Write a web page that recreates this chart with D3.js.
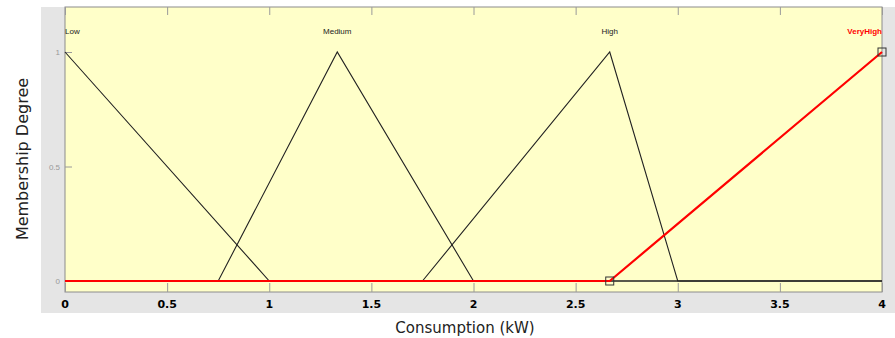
<!DOCTYPE html>
<html>
<head>
<meta charset="utf-8">
<script src="https://cdn.jsdelivr.net/npm/d3@7"></script>
<style>
  body { margin: 0; background: #fff; }
  svg { display: block; }
</style>
</head>
<body>
<svg width="895" height="338"></svg>
<script>
// membership functions (x, degree)
const mfNames = ['Low', 'Medium', 'High', 'VeryHigh']
const lowPts = [[0, 1], [1, 0], [4, 0]]
const mediumPts = [[0, 0], [0.75, 0], [1.333, 1], [2, 0], [4, 0]]
const highPts = [[0, 0], [1.75, 0], [2.667, 1], [3, 0], [4, 0]]
const veryHighPts = [[0, 0], [2.667, 0], [4, 1]]
const mfPeaks = [0, 1.333, 2.667, 4]
const xTicks = [0, 0.5, 1, 1.5, 2, 2.5, 3, 3.5, 4]
const yTicks = [0, 0.5, 1]

const svg = d3.select('svg')
const plotL = 65, plotR = 882, plotT = 7, plotB = 292

// gray panel behind the plot
svg.append('rect')
    .attr('x', 41).attr('y', plotT)
    .attr('width', 895 - 41).attr('height', 313 - plotT)
    .attr('fill', '#e5e5e5')

svg.append('rect')
    .attr('x', plotL).attr('y', plotT)
    .attr('width', plotR - plotL).attr('height', plotB - plotT)
    .attr('fill', '#ffffc9')
    .attr('stroke', '#8c8c8c')
    .attr('stroke-width', 1)

const x = d3.scaleLinear().domain([0, 4]).range([plotL, plotR])
const y = d3.scaleLinear().domain([0, 1]).range([281, 52])

// x ticks at top and bottom, inside
svg.append('g')
    .attr('transform', `translate(0, ${plotB})`)
    .call(d3.axisTop(x).tickValues(xTicks).tickSize(9).tickFormat(''))
    .call(g => g.select('.domain').remove())
    .call(g => g.selectAll('line').attr('stroke', '#9a9a9a'))
svg.append('g')
    .attr('transform', `translate(0, ${plotT})`)
    .call(d3.axisBottom(x).tickValues(xTicks).tickSize(8).tickFormat(''))
    .call(g => g.select('.domain').remove())
    .call(g => g.selectAll('line').attr('stroke', '#9a9a9a'))

// x tick labels, bold
svg.append('g').selectAll('text')
    .data(xTicks)
    .join('text')
    .attr('x', x)
    .attr('y', 308)
    .attr('text-anchor', 'middle')
    .attr('font-family', 'DejaVu Sans, Verdana, sans-serif')
    .attr('font-weight', 'bold')
    .attr('font-size', 11)
    .text(d => d)

// y ticks
const yAxis = svg.append('g')
    .attr('transform', `translate(${plotL}, 0)`)
    .call(d3.axisRight(y).tickValues(yTicks).tickSize(7).tickFormat(''))
yAxis.select('.domain').remove()
yAxis.selectAll('line').attr('stroke', '#9a9a9a')
svg.append('g').selectAll('text')
    .data(yTicks)
    .join('text')
    .attr('x', 60)
    .attr('y', d => y(d) + 3)
    .attr('text-anchor', 'end')
    .attr('font-family', 'Liberation Sans, Arial, sans-serif')
    .attr('font-size', 8)
    .attr('fill', '#999')
    .text(d => d)

const line = d3.line().x(d => x(d[0])).y(d => y(d[1]))

;[lowPts, mediumPts, highPts].forEach(pts => {
    svg.append('path')
        .attr('d', line(pts))
        .attr('fill', 'none')
        .attr('stroke', '#222')
        .attr('stroke-width', 1.1)
})

svg.append('path')
    .attr('d', line(veryHighPts))
    .attr('fill', 'none')
    .attr('stroke', '#ff0000')
    .attr('stroke-width', 2.2)

// square markers on selected function
svg.append('g').selectAll('rect')
    .data([veryHighPts[1], veryHighPts[2]])
    .join('rect')
    .attr('x', d => x(d[0]) - 4)
    .attr('y', d => y(d[1]) - 4)
    .attr('width', 8).attr('height', 8)
    .attr('fill', 'none')
    .attr('stroke', '#333')
    .attr('stroke-width', 1)

// names above each function
svg.append('g').selectAll('text')
    .data(mfNames)
    .join('text')
    .attr('x', (d, i) => x(mfPeaks[i]))
    .attr('y', 34)
    .attr('text-anchor', (d, i) => i === 0 ? 'start' : (i === 3 ? 'end' : 'middle'))
    .attr('font-family', 'Liberation Sans, Arial, sans-serif')
    .attr('font-size', 8)
    .attr('font-weight', (d, i) => i === 3 ? 'bold' : 'normal')
    .attr('fill', (d, i) => i === 3 ? '#ff0000' : '#222')
    .text(d => d)

// axis titles
svg.append('text')
    .attr('transform', 'translate(28, 159) rotate(-90)')
    .attr('text-anchor', 'middle')
    .attr('font-family', 'DejaVu Sans, Verdana, sans-serif')
    .attr('font-size', 16)
    .attr('fill', '#222')
    .text('Membership Degree')

svg.append('text')
    .attr('x', 465)
    .attr('y', 333)
    .attr('text-anchor', 'middle')
    .attr('font-family', 'DejaVu Sans, Verdana, sans-serif')
    .attr('font-size', 15)
    .attr('fill', '#222')
    .text('Consumption (kW)')
</script>
</body>
</html>
